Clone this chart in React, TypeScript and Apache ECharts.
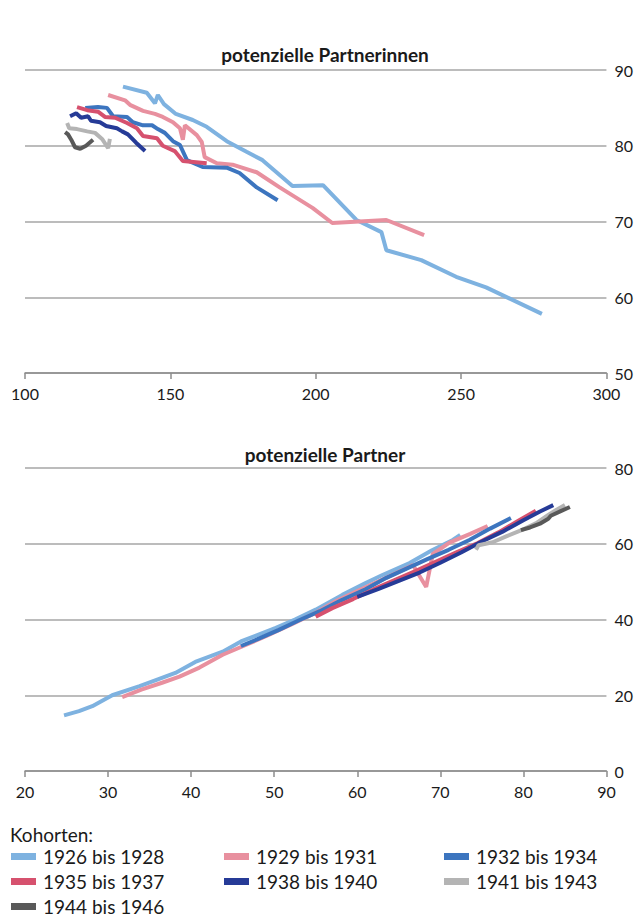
import React, { useEffect, useRef } from "react";
import * as echarts from "echarts";

const cohortNames = [
  "1926 bis 1928",
  "1929 bis 1931",
  "1932 bis 1934",
  "1935 bis 1937",
  "1938 bis 1940",
  "1941 bis 1943",
  "1944 bis 1946",
];
const cohortColors = ["#7eb2e0", "#e8909f", "#3c75bf", "#d6516e", "#263b97", "#b4b4b4", "#595959"];

// Top chart: potenzielle Partnerinnen
const top1926 = [[133.7,87.8],[141.9,87.0],[144.7,85.6],[145.7,86.7],[147.8,85.5],[151.9,84.2],[157.7,83.4],[162.5,82.5],[169.4,80.6],[176.2,79.2],[181.7,78.1],[192.0,74.7],[202.5,74.8],[214.0,70.2],[222.6,68.6],[224.3,66.2],[236.3,64.9],[248.3,62.7],[258.6,61.3],[277.8,57.8]];
const top1929 = [[128.6,86.7],[134.4,86.0],[136.1,85.4],[140.6,84.6],[144.7,84.2],[147.4,83.8],[150.9,83.1],[153.3,82.3],[154.3,80.8],[155.0,82.7],[159.1,81.4],[160.8,80.5],[161.8,78.5],[166.0,77.7],[171.4,77.5],[179.7,76.5],[187.6,74.5],[198.9,71.8],[205.7,69.8],[224.3,70.2],[237.3,68.2]];
const top1932 = [[120.7,85.0],[125.1,85.1],[128.2,85.0],[130.3,83.9],[135.1,83.8],[137.1,83.1],[140.6,82.7],[143.7,82.7],[145.7,82.2],[148.1,81.7],[150.9,80.6],[153.3,80.1],[155.7,78.1],[161.1,77.2],[169.4,77.1],[173.8,76.4],[179.7,74.5],[186.9,72.8]];
const top1935 = [[117.9,85.1],[121.4,84.7],[125.1,84.5],[127.5,83.8],[131.0,83.7],[135.1,83.0],[138.5,82.3],[140.6,81.3],[145.4,81.0],[147.4,80.0],[151.5,79.3],[154.3,78.0],[162.5,77.7]];
const top1938 = [[115.5,83.9],[117.6,84.3],[119.3,83.7],[121.7,83.9],[122.7,83.3],[125.8,83.1],[127.9,82.6],[131.6,82.3],[133.4,81.9],[135.4,81.5],[138.2,80.4],[141.3,79.3]];
const top1941 = [[114.5,83.0],[115.2,82.3],[117.9,82.2],[121.4,81.9],[124.1,81.7],[126.5,80.9],[128.6,79.7],[129.2,80.9]];
const top1944 = [[113.8,81.8],[114.8,81.5],[115.9,80.8],[117.2,79.8],[119.0,79.6],[121.0,80.0],[123.4,80.8]];

// Bottom chart: potenzielle Partner
const bot1926 = [[24.7,14.7],[26.5,15.8],[28.1,17.1],[30.5,20.0],[33.8,22.4],[36.0,24.2],[38.1,25.9],[40.5,28.8],[43.8,31.5],[46.0,34.2],[50.2,37.8],[52.5,40.0],[55.0,42.6],[58.2,46.5],[61.0,49.6],[63.1,51.8],[66.3,54.9],[69.0,58.3],[71.5,61.0],[72.4,62.3]];
const bot1929 = [[31.7,19.5],[34.0,21.5],[36.5,23.3],[38.6,24.9],[41.0,27.3],[43.8,30.7],[46.5,33.2],[49.0,35.6],[52.0,38.6],[55.0,41.8],[57.4,44.8],[60.0,47.5],[62.5,50.0],[65.5,53.1],[66.7,54.4],[68.3,48.6],[69.1,57.3],[71.1,60.3],[73.6,62.6],[75.7,64.7]];
const bot1932 = [[46.0,33.0],[48.0,34.8],[50.5,37.2],[53.0,39.8],[55.5,42.2],[58.0,45.0],[61.0,48.0],[63.5,51.0],[66.0,53.5],[68.5,56.0],[71.0,58.4],[73.5,61.0],[76.0,64.0],[78.5,66.8]];
const bot1935 = [[55.0,40.7],[57.0,43.0],[59.5,45.4],[62.0,48.0],[64.5,50.4],[67.0,52.8],[69.5,55.3],[72.0,57.8],[74.5,60.2],[77.0,63.0],[79.5,66.2],[81.5,68.7]];
const bot1938 = [[60.0,46.0],[62.5,48.0],[65.0,50.2],[67.5,52.4],[70.0,55.0],[72.5,57.7],[75.0,60.6],[77.5,63.2],[80.0,66.2],[82.0,68.5],[83.6,70.2]];
const bot1941 = [[74.3,58.4],[74.6,59.6],[76.3,60.4],[78.0,62.0],[80.0,63.8],[81.5,65.4],[83.0,67.6],[84.0,69.0],[85.0,70.2]];
const bot1944 = [[79.7,63.6],[80.8,64.3],[82.0,65.3],[83.0,66.6],[83.3,67.4],[84.5,68.6],[85.6,69.7]];

const topTicks = { min: 100, max: 300, interval: 50 };
const topYTicks = { min: 50, max: 90, interval: 10 };
const botTicks = { min: 20, max: 90, interval: 10 };
const botYTicks = { min: 0, max: 80, interval: 20 };

const topSeries = [top1926, top1929, top1932, top1935, top1938, top1941, top1944];
const botSeries = [bot1926, bot1929, bot1932, bot1935, bot1938, bot1941, bot1944];

const FONT = "Lato";

export default function App() {
  const ref = useRef<HTMLDivElement>(null);
  useEffect(() => {
    if (!ref.current) return;
    const chart = echarts.init(ref.current, undefined, { renderer: "svg" });
    const axisColor = "#8c8c8c";
    const gridColor = "#a6a6a6";
    const xAxisBase = {
      type: "value",
      axisLine: { show: true, lineStyle: { color: axisColor, width: 1.5 } },
      axisTick: { show: true, length: 6, lineStyle: { color: axisColor, width: 1.5 } },
      axisLabel: { fontSize: 16, color: "#1a1a1a", margin: 12, fontFamily: FONT },
      splitLine: { show: false },
    };
    const yAxisBase = {
      type: "value",
      position: "right",
      axisLine: { show: false },
      axisTick: { show: false },
      axisLabel: { fontSize: 16, color: "#1a1a1a", margin: 8, fontFamily: FONT },
      splitLine: { show: true, lineStyle: { color: gridColor, width: 1.5 } },
    };
    const series: any[] = [];
    cohortNames.forEach((name, i) => {
      series.push({
        name, type: "line", xAxisIndex: 0, yAxisIndex: 0, data: topSeries[i],
        symbol: "none", lineStyle: { color: cohortColors[i], width: 4 },
        itemStyle: { color: cohortColors[i] },
      });
    });
    cohortNames.forEach((name, i) => {
      series.push({
        name, type: "line", xAxisIndex: 1, yAxisIndex: 1, data: botSeries[i],
        symbol: "none", lineStyle: { color: cohortColors[i], width: 4 },
        itemStyle: { color: cohortColors[i] },
      });
    });
    const legendPos = [
      [11, 858], [224, 858], [444, 858],
      [11, 883], [224, 883], [444, 883],
      [11, 908],
    ];
    const legends = cohortNames.map((name, i) => ({
      left: legendPos[i][0],
      top: legendPos[i][1] - 11,
      data: [name],
      icon: "rect",
      itemWidth: 25,
      itemHeight: 7,
      padding: 0,
      itemGap: 0,
      selectedMode: false,
      textStyle: { fontSize: 19, color: "#1a1a1a", fontFamily: FONT, padding: [0, 0, 0, 2] },
    }));
    chart.setOption({
      animation: false,
      backgroundColor: "#ffffff",
      textStyle: { fontFamily: FONT },
      grid: [
        { left: 25, right: 29, top: 70, height: 303 },
        { left: 25, right: 29, top: 468, height: 303 },
      ],
      xAxis: [
        { ...xAxisBase, gridIndex: 0, ...topTicks },
        { ...xAxisBase, gridIndex: 1, ...botTicks },
      ],
      yAxis: [
        { ...yAxisBase, gridIndex: 0, ...topYTicks },
        { ...yAxisBase, gridIndex: 1, ...botYTicks },
      ],
      legend: legends,
      graphic: [
        { type: "text", x: 325, y: 54, style: { text: "potenzielle Partnerinnen", fontSize: 19, fontWeight: "bold", fontFamily: FONT, fill: "#1a1a1a", textAlign: "center", textVerticalAlign: "middle" } },
        { type: "text", x: 325, y: 454, style: { text: "potenzielle Partner", fontSize: 19, fontWeight: "bold", fontFamily: FONT, fill: "#1a1a1a", textAlign: "center", textVerticalAlign: "middle" } },
        { type: "text", x: 10, y: 834, style: { text: "Kohorten:", fontSize: 19, fontFamily: FONT, fill: "#1a1a1a", textAlign: "left", textVerticalAlign: "middle" } },
      ],
      series,
    });
    return () => chart.dispose();
  }, []);
  return <div ref={ref} style={{ position: "fixed", left: 0, top: 0, width: 636, height: 921 }} />;
}
